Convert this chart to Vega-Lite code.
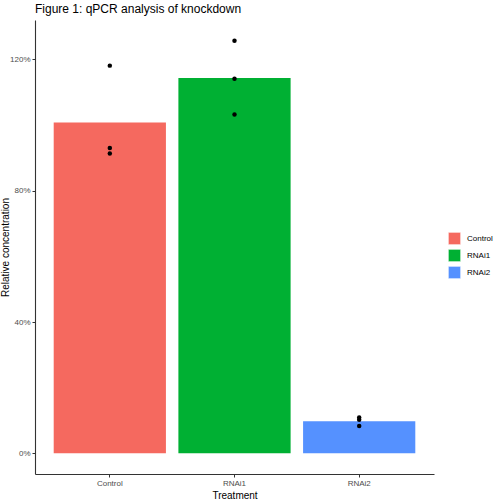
{
  "$schema": "https://vega.github.io/schema/vega-lite/v6.json",
  "autosize": {"type": "none"},
  "padding": {"left": 35, "top": 20, "right": 66, "bottom": 26},
  "width": 399,
  "height": 454,
  "background": "white",
  "title": {
    "text": "Figure 1: qPCR analysis of knockdown",
    "anchor": "start",
    "frame": "group",
    "font": "Liberation Sans",
    "fontSize": 12,
    "fontWeight": "normal",
    "color": "#000000",
    "offset": 4
  },
  "data": {
    "values": [
      {"Treatment": "Control", "conc": 1.181},
      {"Treatment": "Control", "conc": 0.930},
      {"Treatment": "Control", "conc": 0.913},
      {"Treatment": "RNAi1", "conc": 1.257},
      {"Treatment": "RNAi1", "conc": 1.141},
      {"Treatment": "RNAi1", "conc": 1.032},
      {"Treatment": "RNAi2", "conc": 0.109},
      {"Treatment": "RNAi2", "conc": 0.102},
      {"Treatment": "RNAi2", "conc": 0.083}
    ]
  },
  "encoding": {
    "x": {
      "field": "Treatment",
      "type": "nominal",
      "scale": {"paddingInner": 0.1, "paddingOuter": 0.15},
      "axis": {"labelAngle": 0, "title": "Treatment"}
    }
  },
  "layer": [
    {
      "mark": {"type": "bar"},
      "encoding": {
        "y": {
          "aggregate": "mean",
          "field": "conc",
          "type": "quantitative",
          "scale": {"domain": [-0.063, 1.32], "nice": false, "zero": false},
          "axis": {
            "values": [0, 0.4, 0.8, 1.2],
            "format": ".0%",
            "title": "Relative concentration",
            "titleX": -25,
            "titleBaseline": "bottom"
          }
        },
        "y2": {"datum": 0},
        "color": {
          "field": "Treatment",
          "type": "nominal",
          "scale": {"domain": ["Control", "RNAi1", "RNAi2"], "range": ["#F5695F", "#00B033", "#5591FF"]},
          "legend": {
            "title": null,
            "orient": "none",
            "legendX": 413,
            "legendY": 212,
            "symbolType": "square",
            "symbolSize": 150,
            "symbolStrokeColor": "white",
            "symbolStrokeWidth": 0.5,
            "symbolOpacity": 1,
            "rowPadding": 2,
            "labelFontSize": 8,
            "labelFont": "Liberation Sans",
            "labelColor": "#000000",
            "labelOffset": 6
          }
        }
      }
    },
    {
      "mark": {"type": "point", "filled": true, "color": "black", "opacity": 1, "size": 20},
      "encoding": {
        "y": {"field": "conc", "type": "quantitative"}
      }
    }
  ],
  "config": {
    "view": {"stroke": null},
    "axis": {
      "grid": false,
      "domainColor": "#333333",
      "domainWidth": 1.1,
      "tickColor": "#333333",
      "tickSize": 3,
      "labelFont": "Liberation Sans",
      "labelFontSize": 8,
      "labelColor": "#4d4d4d",
      "labelPadding": 2,
      "titleFont": "Liberation Sans",
      "titleFontSize": 10,
      "titleFontWeight": "normal",
      "titleColor": "#000000"
    },
    "axisX": {"titlePadding": 3}
  }
}
